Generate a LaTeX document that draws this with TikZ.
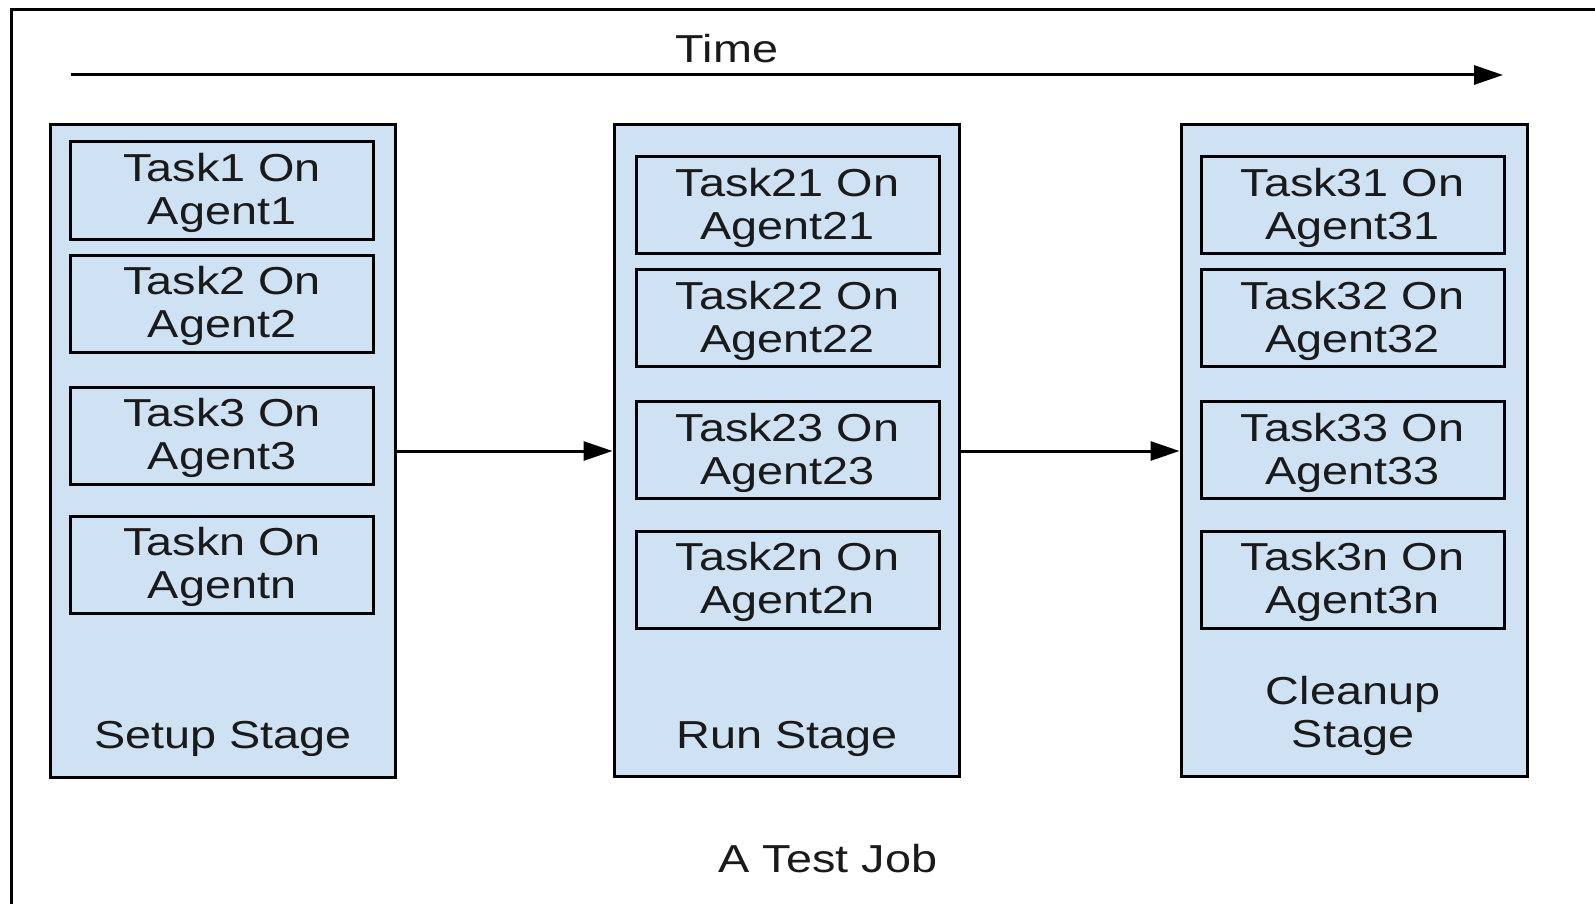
\documentclass[tikz,border=0pt]{standalone}
\usepackage{fontspec}
\setmainfont{Liberation Sans}[FakeStretch=1.2]
\usetikzlibrary{arrows.meta}
\definecolor{stagefill}{HTML}{CFE2F3}
\definecolor{inktext}{HTML}{1A1A1A}
% two-line task caption; the strut drops the text a little within its box
\newcommand\twolines[2]{\rule{0pt}{34pt}#1\\#2}
\tikzset{
  stagebox/.style={draw=black, line width=3pt, fill=stagefill,
    minimum width=345pt, minimum height=652pt, inner sep=0pt},
  taskbox/.style={draw=black, line width=3pt, fill=stagefill,
    minimum width=303pt, minimum height=97pt, inner sep=0pt,
    align=center, text=inktext,
    font=\fontsize{39}{43}\selectfont},
  bigtext/.style={text=inktext, inner sep=0pt, align=center,
    font=\fontsize{39}{43}\selectfont},
  flow/.style={line width=3pt, -{Triangle[length=29pt,width=19pt]}},
}
\begin{document}
\begin{tikzpicture}[x=1pt,y=-1pt]
  \useasboundingbox (0,0) rectangle (1595,904);
  \fill[white] (0,0) rectangle (1595,904);

  % outer frame, running off the right and bottom edges
  \coordinate (frameTL) at (11,10);
  \coordinate (frameTR) at (1595,10);
  \coordinate (frameBL) at (11,904);
  \draw[line width=3pt] (frameBL) -- (frameTL) -- (frameTR);

  % time axis
  \coordinate (tstart) at (71,75);
  \coordinate (tend) at (1503,75);
  \draw[flow] (tstart) -- (tend);
  \node[bigtext, anchor=base] (timelbl) at (727,63) {Time};

  % stages
  \node[stagebox] (setup) at (222.5,451) {};
  \node[stagebox] (run) at (786.5,450.5) {};
  \node[stagebox, minimum width=346pt, minimum height=651pt] (cleanup) at (1354,450.5) {};

  % setup stage tasks
  \node[taskbox] (t1) at (222,190.5) {\twolines{Task1 On}{Agent1}};
  \node[taskbox] (t2) at (222,303.5) {\twolines{Task2 On}{Agent2}};
  \node[taskbox] (t3) at (222,435.5) {\twolines{Task3 On}{Agent3}};
  \node[taskbox] (tn) at (222,564.5) {\twolines{Taskn On}{Agentn}};
  \node[bigtext, anchor=base] (setuplbl) at (223,748) {Setup Stage};

  % run stage tasks
  \node[taskbox] (t21) at (787.5,205) {\twolines{Task21 On}{Agent21}};
  \node[taskbox] (t22) at (787.5,318) {\twolines{Task22 On}{Agent22}};
  \node[taskbox] (t23) at (787.5,450) {\twolines{Task23 On}{Agent23}};
  \node[taskbox] (t2n) at (787.5,579.5) {\twolines{Task2n On}{Agent2n}};
  \node[bigtext, anchor=base] (runlbl) at (787.5,748) {Run Stage};

  % cleanup stage tasks
  \node[taskbox] (t31) at (1352.5,205) {\twolines{Task31 On}{Agent31}};
  \node[taskbox] (t32) at (1352.5,318) {\twolines{Task32 On}{Agent32}};
  \node[taskbox] (t33) at (1352.5,450) {\twolines{Task33 On}{Agent33}};
  \node[taskbox] (t3n) at (1352.5,579.5) {\twolines{Task3n On}{Agent3n}};
  \node[bigtext, anchor=base] (cleanlbl) at (1353,704) {Cleanup};
  \node[bigtext, anchor=base] (cleanlbl2) at (1353,747) {Stage};

  % transitions between stages
  \draw[flow] (setup.east |- 0,451) -- (run.west |- 0,451);
  \draw[flow] (run.east |- 0,451) -- (cleanup.west |- 0,451);

  \node[bigtext, anchor=base] (joblbl) at (828,872) {A Test Job};
\end{tikzpicture}
\end{document}
